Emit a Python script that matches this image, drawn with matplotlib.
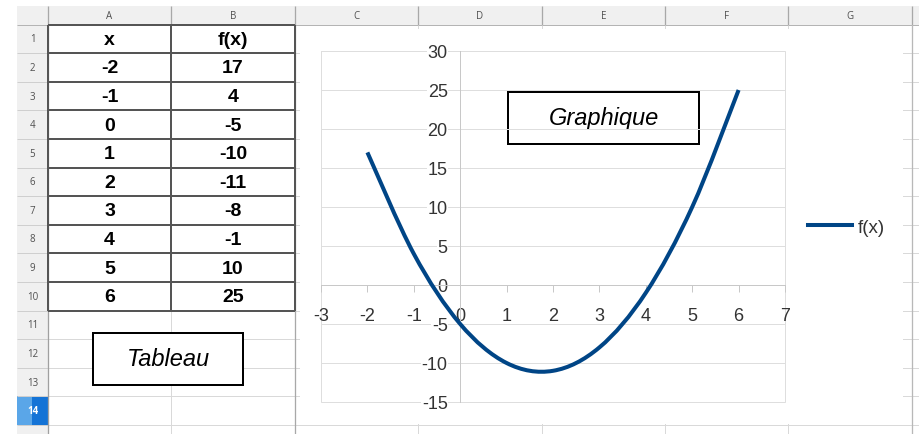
import numpy as np
import matplotlib
matplotlib.use('Agg')
import matplotlib.pyplot as plt
from matplotlib.patches import Rectangle, PathPatch
from matplotlib.path import Path
from matplotlib.lines import Line2D

# données du tableau
x_vals = [-2, -1, 0, 1, 2, 3, 4, 5, 6]
fx_vals = [17, 4, -5, -10, -11, -8, -1, 10, 25]
col_labels = ['A', 'B', 'C', 'D', 'E', 'F', 'G']
x_ticks = list(range(-3, 8))
y_ticks = list(range(-15, 31, 5))
series_name = 'f(x)'

plt.rcParams['axes.unicode_minus'] = False
plt.rcParams['font.family'] = ['Liberation Sans', 'DejaVu Sans']

W, H = 919, 435
PX = 0.72  # 1 pixel en points (dpi 100)
BLUE = '#004586'
GRID = '#d9d9d9'

fig = plt.figure(figsize=(W / 100, H / 100), dpi=100)
fig.patch.set_facecolor('white')

# --- feuille de calcul, en coordonnées pixels ---
sh = fig.add_axes([0, 0, 1, 1])
sh.set_xlim(0, W)
sh.set_ylim(H, 0)
sh.axis('off')

col_x = [48, 171, 295, 418, 542, 665, 788, 912]
row_top, row_h = 25.5, 28.6
row_y = [row_top + i * row_h for i in range(16)]

# en-têtes gris
sh.add_patch(Rectangle((17, 7), W - 17, 19, fc='#f0f0f0', ec='none'))
sh.add_patch(Rectangle((17, 26), 31, H - 26, fc='#f0f0f0', ec='none'))
sh.hlines(26, 17, W, color='#b4b4b4', lw=PX)
for cx in col_x:
    sh.vlines(cx, 7, 26, color='#a8a8a8', lw=PX * 1.3)
for i, lab in enumerate(col_labels):
    sh.text((col_x[i] + col_x[i + 1]) / 2, 16.5, lab, ha='center', va='center',
            fontsize=7, color='#505050', family='Open Sans')

# quadrillage des cellules
for y in row_y[1:]:
    sh.hlines(y, 17, 48, color='#cfcfcf', lw=PX)
    sh.hlines(y, 48, W, color=GRID, lw=PX)
for cx in col_x[1:]:
    sh.vlines(cx, 26, H, color=GRID, lw=PX)
sh.vlines(48, 26, H, color='#a0a0a0', lw=PX * 1.3)
sh.vlines(295, 26, H, color='#a8a8a8', lw=PX * 1.3)
sh.vlines(912, 26, H, color='#b8b8b8', lw=PX * 1.3)

# ligne 14 sélectionnée
y14 = row_y[13]
sh.add_patch(Rectangle((17, y14), 15, row_h, fc='#5aa6e8', ec='none'))
sh.add_patch(Rectangle((32, y14), 16, row_h, fc='#1473d6', ec='none'))
for r in range(1, 15):
    sh.text(32.5, row_y[r - 1] + row_h / 2, str(r), ha='center', va='center',
            fontsize=7, family='Open Sans',
            color='white' if r == 14 else '#505050',
            fontweight='bold' if r == 14 else 'normal')

# tableau A1:B10
tab_rows = [('x', series_name)] + [(str(a), str(b)) for a, b in zip(x_vals, fx_vals)]
for r, (ta, tb) in enumerate(tab_rows):
    yc = row_y[r] + row_h / 2 + 0.5
    sh.text((col_x[0] + col_x[1]) / 2, yc, ta, ha='center', va='center',
            fontsize=14, fontweight='bold', color='black')
    sh.text((col_x[1] + col_x[2]) / 2, yc, tb, ha='center', va='center',
            fontsize=14, fontweight='bold', color='black')
for r in range(11):
    sh.hlines(row_y[r], 48, 295, color='#555555', lw=PX * 2)
for cx in col_x[:3]:
    sh.vlines(cx, row_y[0], row_y[10], color='#555555', lw=PX * 2)

# zone blanche du graphique
sh.add_patch(Rectangle((300, 30), 603, 395, fc='white', ec='none', zorder=3))

# zones de texte
for (bx, by, bw, bh, txt) in [(93, 334, 150, 52, 'Tableau'), (508, 93, 191, 52, 'Graphique')]:
    sh.add_patch(Rectangle((bx, by), bw, bh, fc='white', ec='black', lw=PX * 2, zorder=6))
    sh.text(bx + bw / 2, by + bh / 2, txt, ha='center', va='center', fontsize=17,
            style='italic', color='black', zorder=7)

# --- graphique ---
ax = fig.add_axes([321 / W, 1 - 403 / H, 464 / W, 351 / H])
ax.set_zorder(5)
ax.patch.set_alpha(0)
ax.set_xlim(-3, 7)
ax.set_ylim(-15, 30)
for s in ['top', 'right']:
    ax.spines[s].set_visible(False)
ax.spines['left'].set_position(('data', 0))
ax.spines['bottom'].set_position(('data', 0))
for s in ['left', 'bottom']:
    ax.spines[s].set_color('#c8c8c8')
    ax.spines[s].set_linewidth(PX)
ax.add_patch(Rectangle((0, 0), 1, 1, transform=ax.transAxes, fill=False,
                       ec='#dedede', lw=PX, zorder=0, clip_on=False))
ax.set_xticks(x_ticks)
ax.set_xticklabels([str(t) for t in x_ticks])
ax.set_yticks(y_ticks)
ax.set_yticklabels([str(t) for t in y_ticks])
ax.yaxis.grid(True, color='#dedede', lw=PX)
ax.set_axisbelow(True)
ax.tick_params(axis='x', direction='out', length=5, width=PX, color='#c8c8c8',
               pad=11, labelsize=13, labelcolor='#333333')
ax.tick_params(axis='y', length=0, pad=9, labelsize=13, labelcolor='#333333')
for lbl in ax.get_yticklabels():
    lbl.set_bbox(dict(fc='white', ec='none', pad=0.5))

# courbe lissée (Bézier passant par les points)
pts = np.column_stack([x_vals, fx_vals]).astype(float)
ext = np.vstack([pts[0], pts, pts[-1]])
verts = [pts[0]]
codes = [Path.MOVETO]
for i in range(len(pts) - 1):
    p0, p1, p2, p3 = ext[i], ext[i + 1], ext[i + 2], ext[i + 3]
    verts += [p1 + (p2 - p0) / 6, p2 - (p3 - p1) / 6, p2]
    codes += [Path.CURVE4] * 3
ax.add_patch(PathPatch(Path(verts, codes), fill=False, ec=BLUE, lw=2.9,
                       capstyle='butt', zorder=4))

handle = Line2D([], [], color=BLUE, lw=2.9)
ax.legend([handle], [series_name], loc='center left', frameon=False,
          bbox_to_anchor=(808 / W, 1 - 228 / H), bbox_transform=fig.transFigure,
          borderpad=0, borderaxespad=0, handlelength=2.35, handletextpad=0.3,
          fontsize=13.5, labelcolor='#333333')

fig.savefig('out.png', dpi=100)
